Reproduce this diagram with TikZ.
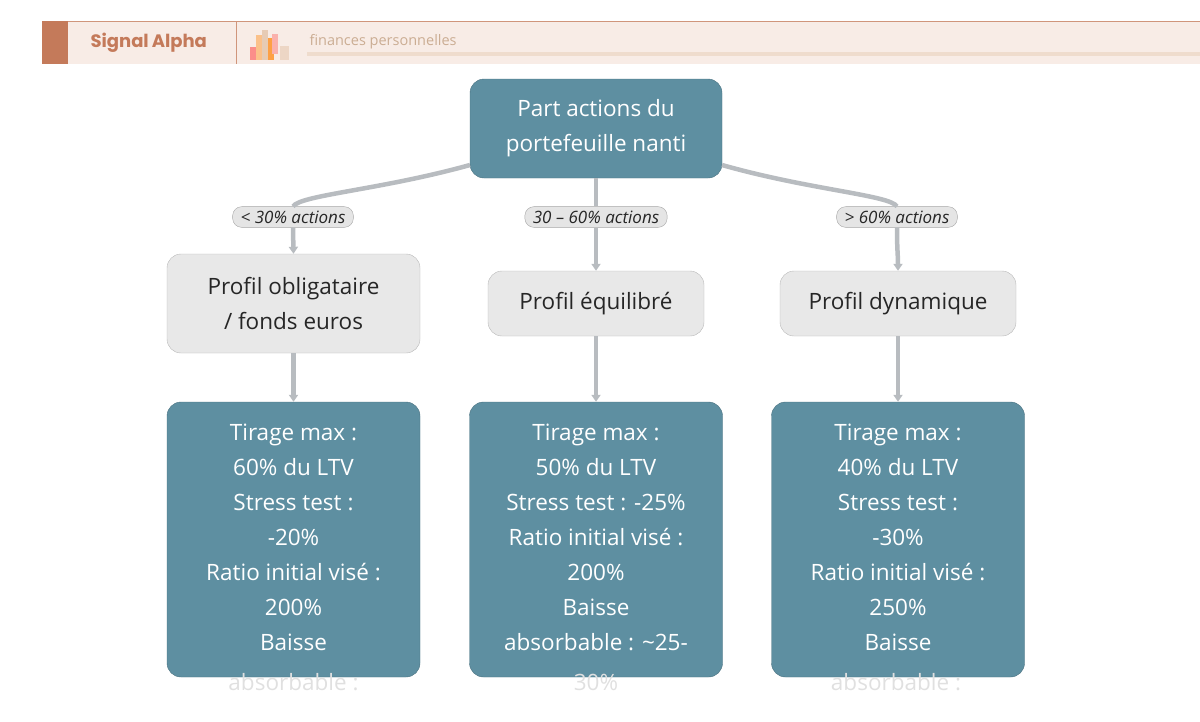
\documentclass[tikz,border=0pt]{standalone}
\usepackage{fontspec}
\setmainfont{Open Sans}
\newfontfamily\popp{Poppins}
\usetikzlibrary{arrows.meta}
\definecolor{teal}{HTML}{5E8FA1}
\definecolor{lgray}{HTML}{E8E8E8}
\definecolor{edgec}{HTML}{B8BCC0}
\definecolor{peach}{HTML}{F8ECE6}
\definecolor{rust}{HTML}{C47A5A}
\begin{document}
\begin{tikzpicture}[x=1pt,y=-1pt,
 topbox/.style={fill=teal,draw=teal!80!black,rounded corners=14pt,text=white,font=\fontsize{22.5}{35}\selectfont,align=center,inner sep=0},
 midbox/.style={fill=lgray,draw=black!28,rounded corners=14pt,text=black!85,font=\fontsize{22.5}{35}\selectfont,align=center,inner sep=0},
 pill/.style={fill=black!10,draw=black!35,rounded corners=9pt,font=\itshape\fontsize{17}{19}\selectfont,text=black!85,inner xsep=8pt,inner ysep=4pt},
 edge/.style={draw=edgec,line width=4.5pt},
 arr/.style={edge,-{Triangle[length=7pt,width=9pt]}}]
\useasboundingbox (0,0) rectangle (1200,721);
% header
\fill[peach] (42,21) rectangle (1200,64);
\draw[rust!80,line width=1pt] (42,21.5) -- (1200,21.5);
\fill[rust] (42,21) rectangle (68,64);
\draw[rust!80,line width=1pt] (236,21) -- (236,64);
\node[anchor=west,text=rust,font=\popp\bfseries\fontsize{18}{22}\selectfont] (brand) at (87,43) {Signal\,Alpha};
\fill[red!40!peach] (250,47) rectangle (256,60);
\fill[orange!40!peach] (256,35) rectangle (262,60);
\fill[brown!30!peach] (262,30) rectangle (268,60);
\fill[orange!70!peach] (268,38) rectangle (274,60);
\fill[red!25!peach] (272,34) rectangle (278,54);
\fill[brown!20!peach] (280,46) rectangle (289,60);
\node[anchor=west,text=brown!40!peach!90!black,font=\fontsize{14.5}{16}\selectfont] (tag) at (306,42) {finances personnelles};
\fill[brown!15!peach] (307,52) rectangle (1200,56);
% nodes
\node[topbox,minimum width=252pt,minimum height=99pt] (root) at (596,128.5) {Part actions du\\portefeuille nanti};
\node[midbox,minimum width=253pt,minimum height=99pt] (m1) at (293.5,303.5) {Profil obligataire\\ / fonds euros};
\node[midbox,minimum width=216pt,minimum height=65pt] (m2) at (596,303.5) {Profil équilibré};
\node[midbox,minimum width=236pt,minimum height=65pt] (m3) at (898,303.5) {Profil dynamique};
\node[pill] (p1) at (293,217) {< 30\% actions};
\node[pill] (p2) at (596,217) {30 – 60\% actions};
\node[pill] (p3) at (897,217) {> 60\% actions};
\path (470,165) coordinate (r1) (722,165) coordinate (r3);
\draw[edge] (r1) .. controls (380,190) and (300,195) .. (p1.north);
\draw[arr] (p1.south) -- (m1.north);
\draw[edge] (root.south) -- (p2.north);
\draw[arr] (p2.south) -- (m2.north);
\draw[edge] (r3) .. controls (810,190) and (890,195) .. (p3.north);
\draw[arr] (p3.south) .. controls (897,250) and (898,255) .. (m3.north);
\foreach \i/\x in {1/293.5,2/596,3/898}{
 \node[topbox,minimum width=253pt,minimum height=275pt] (b\i) at (\x,539.5) {};
 \draw[arr] (m\i.south) -- (b\i.north);
}
\tikzset{bt/.style={text=white,font=\fontsize{22.5}{35}\selectfont,align=center,anchor=north}}
\node[bt] (t1) at (293.5,420) {Tirage max :\\60\% du LTV\\Stress test :\\-20\%\\Ratio initial visé :\\200\%\\Baisse};
\node[bt] (t2) at (596,420) {Tirage max :\\50\% du LTV\\Stress test : -25\%\\Ratio initial visé :\\200\%\\Baisse\\absorbable : \textasciitilde25-};
\node[bt] (t3) at (898,420) {Tirage max :\\40\% du LTV\\Stress test :\\-30\%\\Ratio initial visé :\\250\%\\Baisse};
\tikzset{ov/.style={text=black!12,font=\fontsize{22.5}{35}\selectfont,anchor=center}}
\node[ov] (o1) at (293.5,682) {absorbable :};
\node[ov] (o2) at (596,682) {30\%};
\node[ov] (o3) at (896,682) {absorbable :};
\end{tikzpicture}
\end{document}
